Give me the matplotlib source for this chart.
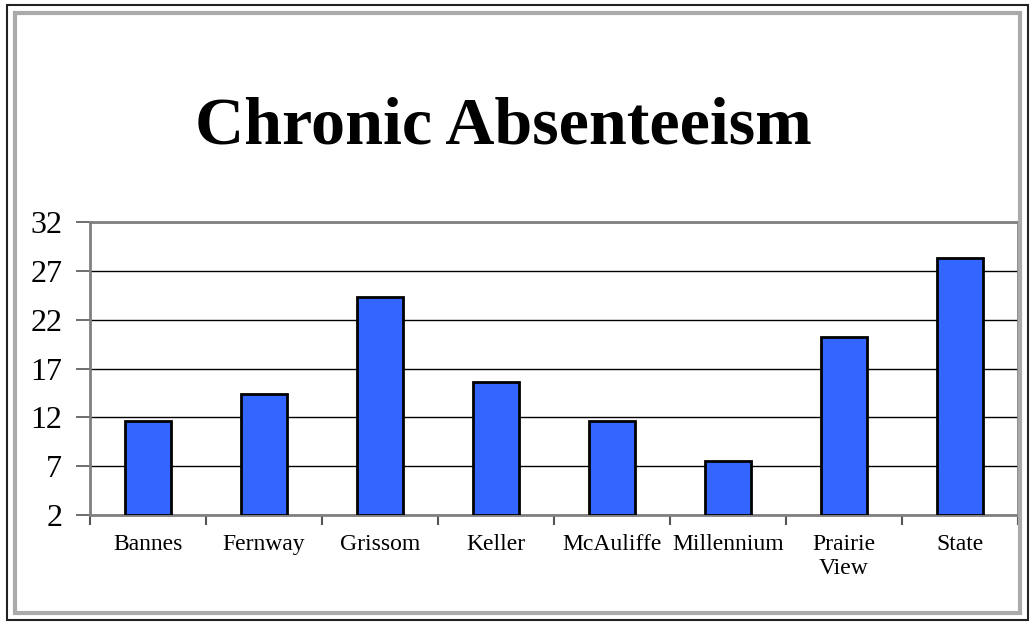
import numpy as np
import matplotlib.pyplot as plt
from matplotlib.patches import Rectangle

schools = ["Bannes", "Fernway", "Grissom", "Keller", "McAuliffe",
           "Millennium", "Prairie\nView", "State"]
absent = [11.6, 14.4, 24.3, 15.6, 11.6, 7.5, 20.2, 28.3]
yticks = [2, 7, 12, 17, 22, 27, 32]

plt.rcParams['font.family'] = ['Liberation Serif', 'DejaVu Serif']

fig = plt.figure(figsize=(10.34, 6.25), dpi=100)
ax = fig.add_axes([90/1034, 1 - 515/625, 928/1034, 293/625])

x = np.arange(len(schools))
ax.bar(x, np.array(absent) - 2, bottom=2, width=0.4, color="#3366FF",
       edgecolor="black", linewidth=2, zorder=3)

ax.set_ylim(2, 32)
ax.set_xlim(-0.5, len(schools) - 0.5)
ax.set_yticks(yticks)
ax.set_yticklabels([str(t) for t in yticks], fontsize=23)
ax.yaxis.grid(True, color="black", linewidth=1)
ax.set_axisbelow(True)

ax.set_xticks(np.arange(len(schools) + 1) - 0.5)
ax.set_xticklabels([])
ax.set_xticks(x, minor=True)
ax.set_xticklabels(schools, minor=True, fontsize=17, linespacing=1.15)
ax.tick_params(axis='x', which='minor', length=0, pad=14)
ax.tick_params(axis='x', which='major', length=7, width=1.5, color="#555555", direction='out')
ax.tick_params(axis='y', length=10, width=1.2, color="#555555", pad=10)
for s in ax.spines.values():
    s.set_color("#808080")
    s.set_linewidth(2)

fig.text(503/1034, 1 - 127/625, "Chronic Absenteeism", ha="center", va="center",
         fontsize=49, fontweight="bold")

# outer frame
fig.patches.append(Rectangle((7/1034, 5/625), 1021/1034, 615/625, transform=fig.transFigure,
                             fill=False, edgecolor="#222222", linewidth=1.5))
fig.patches.append(Rectangle((15/1034, 12/625), 1005/1034, 600/625, transform=fig.transFigure,
                             fill=False, edgecolor="#aaaaaa", linewidth=3))

fig.savefig("out.png", dpi=100)
